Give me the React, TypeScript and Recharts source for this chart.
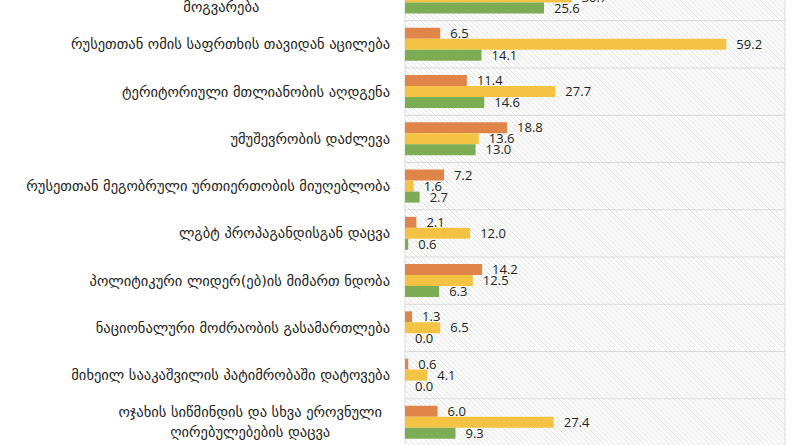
import React from "react";
import {
  BarChart,
  Bar,
  XAxis,
  YAxis,
  CartesianGrid,
  LabelList,
} from "recharts";

// first line of the top label is outside the visible frame
const categories = [
  "ოკუპირებული ტერიტორიების კონფლიქტების\nმოგვარება",
  "რუსეთთან ომის საფრთხის თავიდან აცილება",
  "ტერიტორიული მთლიანობის აღდგენა",
  "უმუშევრობის დაძლევა",
  "რუსეთთან მეგობრული ურთიერთობის მიუღებლობა",
  "ლგბტ პროპაგანდისგან დაცვა",
  "პოლიტიკური ლიდერ(ებ)ის მიმართ ნდობა",
  "ნაციონალური მოძრაობის გასამართლება",
  "მიხეილ სააკაშვილის პატიმრობაში დატოვება",
  "ოჯახის სიწმინდის და სხვა ეროვნული\nღირებულებების დაცვა",
];
const orangeValues = [9.0, 6.5, 11.4, 18.8, 7.2, 2.1, 14.2, 1.3, 0.6, 6.0];
const yellowValues = [30.7, 59.2, 27.7, 13.6, 1.6, 12.0, 12.5, 6.5, 4.1, 27.4];
const greenValues = [25.6, 14.1, 14.6, 13.0, 2.7, 0.6, 6.3, 0.0, 0.0, 9.3];
const xTicks = [0, 10, 20, 30, 40, 50, 60, 70];

const data = categories.map((name, i) => ({
  name,
  s1: orangeValues[i],
  s2: yellowValues[i],
  s3: greenValues[i],
}));

const tickFont = "14.5px 'DejaVu Sans', sans-serif";
let ctx: CanvasRenderingContext2D | null = null;
function measure(s: string) {
  if (!ctx) ctx = document.createElement("canvas").getContext("2d");
  if (!ctx) return s.length * 8;
  ctx.font = tickFont;
  return ctx.measureText(s).width;
}

function CategoryTick({ x, y, payload }: any) {
  const lines = String(payload.value).split("\n");
  const lh = 20;
  const start = y - ((lines.length - 1) * lh) / 2;
  // wrapped labels are centred on their longest line
  const multi = lines.length > 1;
  const cx = multi ? x - 8 - Math.max(...lines.map(measure)) / 2 : x;
  return (
    <text
      x={cx}
      y={start}
      textAnchor={multi ? "middle" : "end"}
      dominantBaseline="central"
      style={{ font: tickFont }}
      fill="#222"
    >
      {lines.map((l, i) => (
        <tspan key={i} x={cx} y={start + i * lh}>
          {l}
        </tspan>
      ))}
    </text>
  );
}

const labelStyle = {
  fontSize: 13,
  fill: "#222",
  fontFamily: "'Open Sans', sans-serif",
};
const fmt = (v: any) => Number(v).toFixed(1);

export default function App() {
  return (
    <div style={{ position: "absolute", left: 0, top: -40 }}>
      <BarChart
        width={800}
        height={521}
        data={data}
        layout="vertical"
        barCategoryGap="15%"
        barGap={0}
        margin={{ top: 13.5, right: 15, bottom: 5, left: 0 }}
      >
        <defs>
          <pattern
            id="hatch"
            patternUnits="userSpaceOnUse"
            width={5}
            height={5}
          >
            <rect width={5} height={5} fill="#ffffff" />
            <path
              d="M0,0 L5,5 M-1,4 L1,6 M4,-1 L6,1"
              stroke="#e0e0e0"
              strokeWidth={1}
            />
          </pattern>
        </defs>
        <CartesianGrid
          fill="url(#hatch)"
          stroke="#d9d9d9"
          strokeWidth={1}
          horizontalCoordinatesGenerator={({ offset }: any) =>
            categories
              .slice(1)
              .map((_, i) => offset.top + ((i + 1) * offset.height) / categories.length)
          }
        />
        <XAxis
          type="number"
          domain={[0, 70]}
          ticks={xTicks}
          axisLine={false}
          tickLine={false}
          tick={false}
          height={30}
        />
        <YAxis
          type="category"
          dataKey="name"
          width={405}
          axisLine={false}
          tickLine={false}
          tickSize={0}
          tickMargin={15}
          interval={0}
          tick={<CategoryTick />}
        />
        <Bar dataKey="s1" fill="#e0854a" minPointSize={0.01} isAnimationActive={false}>
          <LabelList dataKey="s1" position="right" offset={10} formatter={fmt} style={labelStyle} />
        </Bar>
        <Bar dataKey="s2" fill="#f5c343" minPointSize={0.01} isAnimationActive={false}>
          <LabelList dataKey="s2" position="right" offset={10} formatter={fmt} style={labelStyle} />
        </Bar>
        <Bar dataKey="s3" fill="#7cad55" minPointSize={0.01} isAnimationActive={false}>
          <LabelList dataKey="s3" position="right" offset={10} formatter={fmt} style={labelStyle} />
        </Bar>
      </BarChart>
    </div>
  );
}
